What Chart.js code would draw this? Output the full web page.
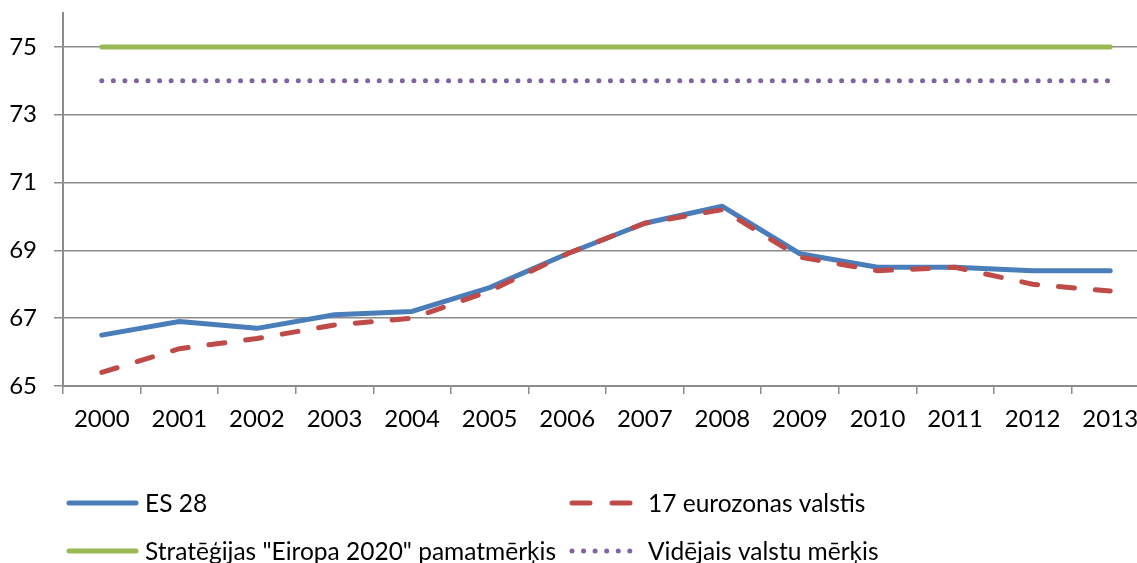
<!DOCTYPE html>
<html>
<head>
<meta charset="utf-8">
<script src="https://cdn.jsdelivr.net/npm/chart.js@4/dist/chart.umd.min.js"></script>
<style>
  html, body { margin: 0; padding: 0; background: #fff; overflow: hidden; }
  #wrap { width: 1160px; height: 563px; position: relative; }
</style>
</head>
<body>
<div id="wrap"><canvas id="c" width="1160" height="563"></canvas></div>
<script>
const years = ['2000','2001','2002','2003','2004','2005','2006','2007','2008','2009','2010','2011','2012','2013'];
const es28 = [66.5, 66.9, 66.7, 67.1, 67.2, 67.9, 68.9, 69.8, 70.3, 68.9, 68.5, 68.5, 68.4, 68.4];
const euro17 = [65.4, 66.1, 66.4, 66.8, 67.0, 67.8, 68.9, 69.8, 70.2, 68.8, 68.4, 68.5, 68.0, 67.8];
const target2020 = [75, 75, 75, 75, 75, 75, 75, 75, 75, 75, 75, 75, 75, 75];
const avgTarget = [74, 74, 74, 74, 74, 74, 74, 74, 74, 74, 74, 74, 74, 74];
const yTicks = [65, 67, 69, 71, 73, 75];
const seriesNames = ['ES 28', '17 eurozonas valstis', 'Stratēģijas "Eiropa 2020" pamatmērķis', 'Vidējais valstu mērķis'];

const FONT = 'Lato, "Open Sans", sans-serif';
const GRID = '#8c8c8c';

const legendPlugin = {
  id: 'gridLegend',
  afterDraw(chart) {
    const ctx = chart.ctx;
    const colX = [67, 570];
    const rowY = [503, 551];
    chart.data.datasets.forEach((ds, i) => {
      const col = i % 2, row = Math.floor(i / 2);
      const x = colX[col], y = rowY[row];
      ctx.save();
      ctx.strokeStyle = ds.borderColor;
      ctx.lineWidth = ds.borderWidth;
      ctx.lineCap = 'round';
      ctx.setLineDash(ds.legendDash || []);
      ctx.beginPath();
      ctx.moveTo(x + 2, y);
      ctx.lineTo(x + 69, y);
      ctx.stroke();
      ctx.setLineDash([]);
      ctx.fillStyle = '#000';
      ctx.font = '24.5px ' + FONT;
      ctx.textBaseline = 'middle';
      ctx.textAlign = 'left';
      ctx.fillText(ds.label, x + 78, y + 1);
      ctx.restore();
    });
  }
};

new Chart(document.getElementById('c'), {
  type: 'line',
  data: {
    labels: years,
    datasets: [
      { label: seriesNames[0], data: es28, borderColor: '#4A7EBB', borderWidth: 5, pointRadius: 0, tension: 0, order: 1, borderCapStyle: 'round', borderJoinStyle: 'round' },
      { label: seriesNames[1], data: euro17, borderColor: '#BE4B48', borderWidth: 5, pointRadius: 0, tension: 0, order: 0, borderDash: [16, 21], borderCapStyle: 'round', legendDash: [18, 22] },
      { label: seriesNames[2], data: target2020, borderColor: '#98B954', borderWidth: 5, pointRadius: 0, tension: 0, order: 2, borderCapStyle: 'round' },
      { label: seriesNames[3], data: avgTarget, borderColor: '#8064A2', borderWidth: 5, pointRadius: 0, tension: 0, order: 3, borderDash: [0.01, 11.55], borderCapStyle: 'round', legendDash: [0.01, 11.55] }
    ]
  },
  options: {
    responsive: false,
    animation: false,
    layout: { padding: { top: 13, left: 0, right: 11, bottom: 0 } },
    plugins: { legend: { display: false }, tooltip: { enabled: false } },
    scales: {
      x: {
        offset: true,
        grid: { offset: true, drawOnChartArea: false, drawTicks: true, tickLength: 8, color: GRID, lineWidth: 1.5 },
        border: { color: GRID, width: 2 },
        ticks: { color: '#000', font: { family: FONT, size: 24 }, padding: 11, maxRotation: 0, autoSkip: false },
        afterFit(scale) { scale.height = 177; scale.paddingLeft = 0; scale.paddingRight = 0; }
      },
      y: {
        min: 65, max: 76,
        afterBuildTicks(scale) { scale.ticks = yTicks.map(v => ({ value: v })); },
        grid: { color: GRID, lineWidth: 1.5, tickLength: 9 },
        border: { color: GRID, width: 2 },
        ticks: { color: '#000', font: { family: FONT, size: 24 }, padding: 17 },
        afterFit(scale) { scale.width = 63; scale.paddingTop = 0; scale.paddingBottom = 0; }
      }
    }
  },
  plugins: [legendPlugin]
});
</script>
</body>
</html>
